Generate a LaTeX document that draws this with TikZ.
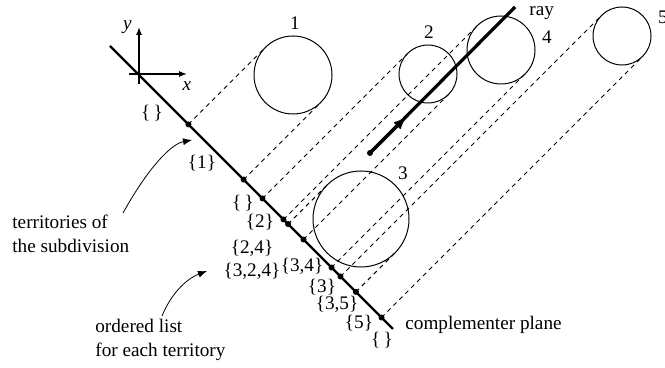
\documentclass[tikz,border=0pt]{standalone}
\usepackage{fontspec}
\setmainfont{Liberation Serif}
\usetikzlibrary{calc,arrows.meta}

\tikzset{
    planeline/.style={line width=1.1pt},
    projline/.style={dash pattern=on 2.2pt off 2pt, line width=0.45pt},
    object/.style={circle, draw, inner sep=0pt, outer sep=0pt, line width=0.5pt},
    dotnode/.style={circle, fill, inner sep=0pt, minimum size=3pt},
    raypath/.style={line width=1.6pt},
    note/.style={anchor=west, align=left, inner sep=0pt},
}

\begin{document}
\begin{tikzpicture}[
                x=0.5pt, y=-0.5pt, % 按像素取坐标
                font=\fontsize{9.6}{12}\selectfont,
            ]
            \useasboundingbox (0,0) rectangle (665,368);
            % 坐标轴
            \draw[line width=0.6pt, -{Latex[length=4pt,width=3pt]}] (129,74) -- (187,74) node[below] {\textit{x}};
            \draw[line width=0.6pt, -{Latex[length=4pt,width=3pt]}] (139,84) -- (139,27) node[left] {\textit{y}};

            % 投影平面
            \coordinate (pa) at (110,46);
            \coordinate (pb) at (393,329);
            \draw[planeline] (pa) -- (pb);
            \node[anchor=west, inner sep=0pt] (cplane) at (405,325) {complementer plane};

            % 物体（圆）与编号
            \foreach \n/\x/\y/\r/\lx/\ly in {1/293/75/39/295/23, 2/428/74/29/429/32,
                    3/361/219/48/403/173, 4/501/50/34/547/37, 5/622/36/29/663/17}
            {
                \node[object, minimum size=\r pt] (c\n) at (\x,\y) {};
                \node (l\n) at (\lx,\ly) {\n};
            }

            % 投影线与分界点
            \foreach \n in {1,...,5}
            {
                \coordinate (a\n) at ($(pa)!(c\n.135)!(pb)$);
                \coordinate (b\n) at ($(pa)!(c\n.315)!(pb)$);
                \draw[projline] (a\n) -- (c\n.135);
                \draw[projline] (b\n) -- (c\n.315);
                \node[dotnode] at (a\n) {};
                \node[dotnode] at (b\n) {};
            }

            % 射线
            \coordinate (rs) at (370,153);
            \coordinate (rm) at (407,116);
            \coordinate (re) at (515,7);
            \draw[raypath] (rs) -- (re);
            \draw[raypath, -{Latex[length=7pt,width=5pt]}] (rs) -- (rm);
            \node[dotnode] at (rs) {};
            \node[anchor=west, inner sep=0pt] (ray) at (529,13) {ray};

            % 各区域的有序列表
            \foreach \t/\x/\y [count=\i] in {{\{\,\}}/152/113, {\{1\}}/202/163,
                    {\{\,\}}/243/203, {\{2\}}/260/222, {\{2,4\}}/252/248,
                    {\{3,2,4\}}/252/271, {\{3,4\}}/302/266, {\{3\}}/322/287,
                    {\{3,5\}}/337/304, {\{5\}}/359/323, {\{\,\}}/382/340}
                \node[inner sep=0pt] (s\i) at (\x,\y) {\t};

            % 说明文字
            \node[note] (terr) at (12,234) {territories of\\the subdivision};
            \node[note] (olist) at (95,340) {ordered list\\for each territory};
            \coordinate (t0) at (123,213);
            \coordinate (t1) at (192,140);
            \coordinate (o0) at (162,316);
            \coordinate (o1) at (207,271);
            \draw[-{Latex[length=4.5pt,width=3.5pt]}] (t0) .. controls (148,168) and (171,144) .. (t1);
            \draw[-{Latex[length=4.5pt,width=3.5pt]}] (o0) .. controls (171,294) and (186,279) .. (o1);
            \end{tikzpicture}
\end{document}
